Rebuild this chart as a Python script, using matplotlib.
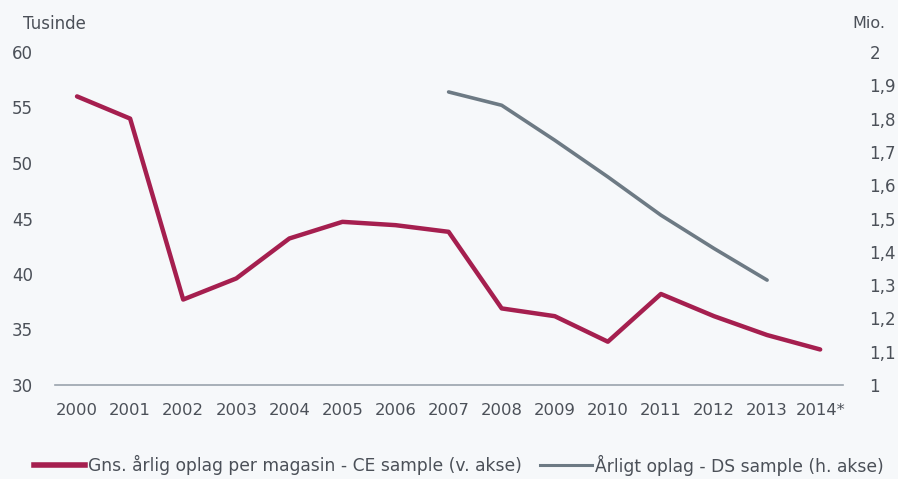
import matplotlib
matplotlib.use("Agg")
import matplotlib.pyplot as plt
from matplotlib.lines import Line2D

years = list(range(2000, 2015))
xlabels = [str(y) for y in years[:-1]] + ["2014*"]
ce_values = [56.0, 54.0, 37.7, 39.6, 43.2, 44.7, 44.4, 43.8, 36.9, 36.2, 33.9, 38.2, 36.2, 34.5, 33.2]
ds_years = list(range(2007, 2014))
ds_values = [1.88, 1.84, 1.735, 1.625, 1.51, 1.41, 1.315]
left_ticks = [30, 35, 40, 45, 50, 55, 60]
right_ticks = [1.0, 1.1, 1.2, 1.3, 1.4, 1.5, 1.6, 1.7, 1.8, 1.9, 2.0]
right_labels = ["1", "1,1", "1,2", "1,3", "1,4", "1,5", "1,6", "1,7", "1,8", "1,9", "2"]
legend_labels = ["Gns. årlig oplag per magasin - CE sample (v. akse)",
                 "Årligt oplag - DS sample (h. akse)"]

RED = "#a51f4f"
GREY = "#6d7a84"
TXT = "#4b5058"
BG = "#f6f8fa"
W, H = 898, 479

plt.rcParams['font.family'] = ['DejaVu Sans']
fig = plt.figure(figsize=(W/100, H/100), dpi=100, facecolor=BG)
ax = fig.add_axes([55/W, 94/H, 788/W, 333/H])
ax.set_facecolor(BG)
ax2 = ax.twinx()

ax.plot(years, ce_values, color=RED, lw=3.2, solid_capstyle='round', zorder=3)
ax2.plot(ds_years, ds_values, color=GREY, lw=2.6, solid_capstyle='round', zorder=3)

ax.set_xlim(1999.585, 2014.43)
ax.set_ylim(30, 60)
ax2.set_ylim(1.0, 2.0)
ax.axhline(30, color="#9aa3ad", lw=1.2, zorder=2, clip_on=False)

ax.set_xticks(years)
ax.set_xticklabels(xlabels)
ax.set_yticks(left_ticks)
ax2.set_yticks(right_ticks)
ax2.set_yticklabels(right_labels)

for a in (ax, ax2):
    for s in a.spines.values():
        s.set_visible(False)
ax.tick_params(axis='x', length=0, pad=13, labelsize=11.8, labelcolor=TXT)
ax.tick_params(axis='y', length=0, pad=16, labelsize=12, labelcolor=TXT)
ax2.tick_params(axis='y', length=0, pad=19, labelsize=12, labelcolor=TXT)

fig.text(23/W, 1 - 24/H, "Tusinde", fontsize=12, color=TXT, va='center', ha='left')
fig.text(852/W, 1 - 24/H, "Mio.", fontsize=11.5, color=TXT, va='center', ha='left')

# legend drawn manually
ly = 1 - 465/H
fig.add_artist(Line2D([34/W, 85/W], [ly, ly], color=RED, lw=4, transform=fig.transFigure))
fig.text(88/W, ly, legend_labels[0], fontsize=12.3, color=TXT, va='center', ha='left')
fig.add_artist(Line2D([540/W, 592/W], [ly, ly], color=GREY, lw=2.2, transform=fig.transFigure))
fig.text(595/W, ly, legend_labels[1], fontsize=12.3, color=TXT, va='center', ha='left')

fig.savefig("out.png", dpi=100, facecolor=BG)
